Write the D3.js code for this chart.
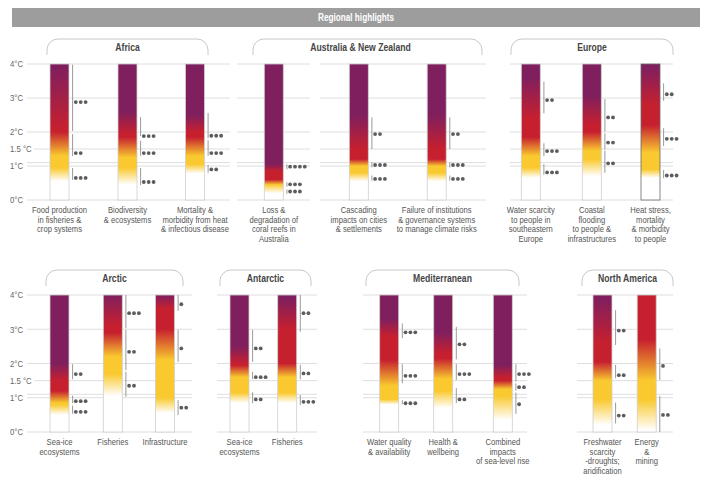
<!DOCTYPE html>
<html><head><meta charset="utf-8">
<script src="https://cdn.jsdelivr.net/npm/d3@7"></script>
<style>
body{margin:0;background:#fff;}
text{font-family:"Liberation Sans Narrow","Arial Narrow","Liberation Sans",Arial,sans-serif;}
</style></head><body>
<svg id="c" width="712" height="495"></svg>
<script>
// ---------------- DATA ----------------
const title = "Regional highlights";
const panelNames = ["Africa","Australia & New Zealand","Europe","Arctic","Antarctic","Mediterranean","North America"];
const emberPanel = [0,0,0, 1,1,1, 2,2,2, 3,3,3, 4,4, 5,5,5, 6,6];
const emberLabels = [
  ["Food production","in fisheries &","crop systems"],
  ["Biodiversity","& ecosystems"],
  ["Mortality &","morbidity from heat","& infectious disease"],
  ["Loss &","degradation of","coral reefs in","Australia"],
  ["Cascading","impacts on cities","& settlements"],
  ["Failure of institutions","& governance systems","to manage climate risks"],
  ["Water scarcity","to people in","southeastern","Europe"],
  ["Coastal","flooding","to people &","infrastructures"],
  ["Heat stress,","mortality","& morbidity","to people"],
  ["Sea-ice","ecosystems"],
  ["Fisheries"],
  ["Infrastructure"],
  ["Sea-ice","ecosystems"],
  ["Fisheries"],
  ["Water quality","& availability"],
  ["Health &","wellbeing"],
  ["Combined","impacts","of sea-level rise"],
  ["Freshwater","scarcity","-droughts;","aridification"],
  ["Energy","&","mining"]
];
// transitions in °C of global warming: [start, end]
const whiteToYellow = [[0.55,0.95],[0.45,0.95],[0.78,1.05],[0.2,0.45],[0.55,0.8],[0.55,0.8],[0.65,0.95],[0.7,1.2],[0.65,0.9],
  [0.5,0.8],[1.05,1.7],[0.55,1.0],[0.85,1.15],[0.85,1.15],[0.8,0.95],[0.7,1.2],[0.35,1.05],[0.2,0.95],[0.05,0.95]];
const yellowToRed = [[1.3,2.0],[1.25,1.85],[1.3,1.85],[0.45,0.6],[1.0,1.2],[1.0,1.2],[1.3,1.85],[1.45,2.0],[1.4,2.2],
  [0.85,1.2],[2.2,2.9],[2.1,3.0],[1.6,1.95],[1.6,2.0],[1.35,2.1],[1.55,2.15],[1.25,1.5],[1.5,2.05],[1.5,2.7]];
const redToPurple = [[2.1,3.9],[1.95,2.6],[2.0,2.5],[0.85,1.05],[1.5,2.5],[1.5,2.5],[2.4,3.6],[2.2,3.05],[2.8,3.9],
  [1.5,2.0],[3.1,4.0],[3.6,4.0],[2.0,2.5],[3.0,3.9],[2.8,3.3],[2.3,2.9],[1.6,1.95],[2.6,3.9],null];
// confidence: [upper °C, lower °C, level of dots °C, number of dots]
const confidence = [
  [[3.98,2.03,2.88,3],[1.94,1.29,1.38,2],[0.94,0.59,0.65,3]],
  [[2.44,1.88,1.88,3],[1.74,1.30,1.38,3],[0.94,0.44,0.53,3]],
  [[2.56,1.82,1.89,3],[1.76,1.30,1.38,3],[1.03,0.80,0.90,2]],
  [[1.05,0.90,0.98,4],[0.52,0.39,0.46,3],[0.31,0.18,0.25,3]],
  [[2.43,1.50,1.94,2],[1.11,0.96,1.03,3],[0.72,0.57,0.62,3]],
  [[2.43,1.50,1.94,2],[1.11,0.96,1.03,3],[0.72,0.57,0.62,3]],
  [[3.48,2.55,2.94,2],[1.67,1.29,1.44,3],[1.05,0.74,0.81,3]],
  [[2.97,2.01,2.43,2],[1.96,1.49,1.69,2],[1.45,0.80,1.08,2]],
  [[3.43,2.92,3.11,2],[2.11,1.59,1.80,3],[0.88,0.64,0.72,3]],
  [[1.98,1.54,1.69,2],[1.06,0.84,0.90,3],[0.77,0.53,0.59,3]],
  [[4.00,3.03,3.47,3],[2.98,1.81,2.34,2],[1.76,1.03,1.35,2]],
  [[4.00,3.54,3.73,1],[2.98,2.05,2.44,1],[0.93,0.50,0.71,2]],
  [[2.98,2.05,2.44,2],[1.76,1.54,1.60,3],[1.16,0.84,0.95,2]],
  [[4.00,2.93,3.47,2],[1.96,1.54,1.71,2],[1.08,0.79,0.88,3]],
  [[3.17,2.74,2.91,3],[1.98,1.42,1.64,3],[0.93,0.81,0.84,3]],
  [[3.07,2.12,2.56,2],[1.98,1.52,1.69,3],[1.28,0.84,0.95,2]],
  [[1.98,1.47,1.69,3],[1.42,1.21,1.31,2],[1.15,0.53,0.81,1]],
  [[3.56,2.54,2.96,2],[1.96,1.57,1.66,2],[0.86,0.25,0.48,2]],
  [[2.44,1.52,1.93,1],[1.05,0.00,0.50,2]]
];
const tickValues = [4,3,2,1.5,1,0];
const tickLabels = ["4°C","3°C","2°C","1.5 °C","1°C","0°C"];
const currentWarming = 1.1;

// ---------------- LAYOUT ----------------
const COL = {white:"#ffffff", yellow:"#f9c92f", red:"#c6202f", purple:"#801f5e"};
const SX = 0.82; // narrow face emulation
const rows = [{y0:200, y4:64}, {y0:432, y4:295}];
const panelRow = [0,0,0,1,1,1,1];
const panelLayout = [
  {tab:[47,208], textX:127.5, centers:[59.5,127.5,195], grid:[[27,230]]},
  {tab:[253,482], textX:360.5, centers:[273.8,358.8,436.7], grid:[[237,310],[320,486]]},
  {tab:[511,673], textX:592, centers:[530.8,591.8,650.5], grid:[[510,673]]},
  {tab:[46,183], textX:114.5, centers:[59.5,112.8,165], grid:[[27,192]]},
  {tab:[220,311], textX:265.5, centers:[239.5,287.2], grid:[[217,317]]},
  {tab:[366,519], textX:442.5, centers:[389.2,443.2,502.8], grid:[[363,527]]},
  {tab:[582,673], textX:627.5, centers:[602.5,646.7], grid:[[577,673]]}
];
const barW = 19;

const svg = d3.select("#c");
const defs = svg.append("defs");

function narrowText(x, y) {
  return svg.append("g").attr("transform", `translate(${x},${y}) scale(${SX},1)`).append("text");
}

// title bar
svg.append("rect").attr("x",12).attr("y",8).attr("width",688).attr("height",19).attr("fill","#9d9d9d");
narrowText(356,17.5).attr("dy","0.35em").attr("text-anchor","middle")
  .attr("fill","#fff").attr("font-weight","bold").attr("font-size",10).text(title);

const yScales = rows.map(r => d3.scaleLinear().domain([0,4]).range([r.y0, r.y4]));

// axis labels + gridlines
rows.forEach((r,ri) => {
  const y = yScales[ri];
  const g = svg.append("g");
  const ends = [];
  tickValues.forEach((v,vi) => {
    const t = narrowText(10, y(v)).attr("dy","0.35em").attr("font-size",9.5).attr("fill","#666").text(tickLabels[vi]);
    ends.push(10 + t.node().getComputedTextLength()*SX + 2);
  });
  const gridVals = tickValues.concat([currentWarming]);
  panelLayout.forEach((p,pi) => {
    if (panelRow[pi] !== ri) return;
    p.grid.forEach(seg => {
      gridVals.forEach((v,vi) => {
        let x0 = seg[0];
        if (seg[0] < 40 && vi < tickValues.length) x0 = Math.max(seg[0], ends[vi]);
        g.append("line").attr("x1",x0).attr("x2",seg[1]).attr("y1",y(v)).attr("y2",y(v))
          .attr("stroke","#dedede").attr("stroke-width",1);
      });
    });
  });
});

// panel tabs
panelNames.forEach((name,pi) => {
  const p = panelLayout[pi];
  const top = rows[panelRow[pi]].y4 - 25;
  const bot = top + 16, rad = 11;
  const [x0,x1] = p.tab;
  const path = `M${x0},${bot} L${x0},${top+rad} A${rad},${rad} 0 0 1 ${x0+rad},${top} L${x1-rad},${top} A${rad},${rad} 0 0 1 ${x1},${top+rad} L${x1},${bot}`;
  svg.append("path").attr("d",path).attr("fill","none").attr("stroke","#c8c8c8").attr("stroke-width",1);
  narrowText(p.textX, top+8.5).attr("dy","0.35em").attr("text-anchor","middle")
    .attr("font-weight","bold").attr("font-size",10.5).attr("fill","#454545").text(name);
});

// x scales per panel
const xScales = panelLayout.map((p,pi) => {
  const dom = emberPanel.map((e,i)=>i).filter(i=>emberPanel[i]===pi);
  return d3.scaleOrdinal().domain(dom).range(p.centers);
});

// embers
emberLabels.forEach((lines,i) => {
  const pi = emberPanel[i], ri = panelRow[pi];
  const y = yScales[ri];
  const cx = xScales[pi](i);
  const stops = [[0,COL.white],[whiteToYellow[i][0],COL.white],[whiteToYellow[i][1],COL.yellow],
                 [yellowToRed[i][0],COL.yellow],[yellowToRed[i][1],COL.red]];
  if (redToPurple[i]) { stops.push([redToPurple[i][0],COL.red],[redToPurple[i][1],COL.purple],[4,COL.purple]); }
  else stops.push([4,COL.red]);
  const gid = "g"+i;
  const lg = defs.append("linearGradient").attr("id",gid).attr("gradientUnits","userSpaceOnUse")
    .attr("x1",0).attr("x2",0).attr("y1",y(0)).attr("y2",y(4));
  stops.forEach(s => lg.append("stop").attr("offset",Math.min(1,s[0]/4)).attr("stop-color",s[1]));
  svg.append("rect").attr("x",cx-barW/2).attr("y",y(4)).attr("width",barW).attr("height",y(0)-y(4))
    .attr("fill",`url(#${gid})`).attr("stroke", i===8 ? "#6a6a6a" : "#cfcfcf").attr("stroke-width",0.8);

  // confidence brackets
  const lx = cx + barW/2 + 3.6;
  confidence[i].forEach(c => {
    svg.append("line").attr("x1",lx).attr("x2",lx).attr("y1",y(c[0])).attr("y2",y(c[1]))
      .attr("stroke","#9a9a9a").attr("stroke-width",1);
    d3.range(c[3]).forEach(k => {
      svg.append("circle").attr("cx",lx+3.2+k*4.9).attr("cy",y(c[2])).attr("r",1.9).attr("fill","#5c5c5c");
    });
  });

  // labels
  const t = narrowText(cx, y(0)).attr("text-anchor","middle").attr("font-size",9.3).attr("fill","#555");
  lines.forEach((ln,k) => {
    t.append("tspan").attr("x",0).attr("y",13.3+k*9.6).text(ln);
  });
});
</script>
</body></html>
